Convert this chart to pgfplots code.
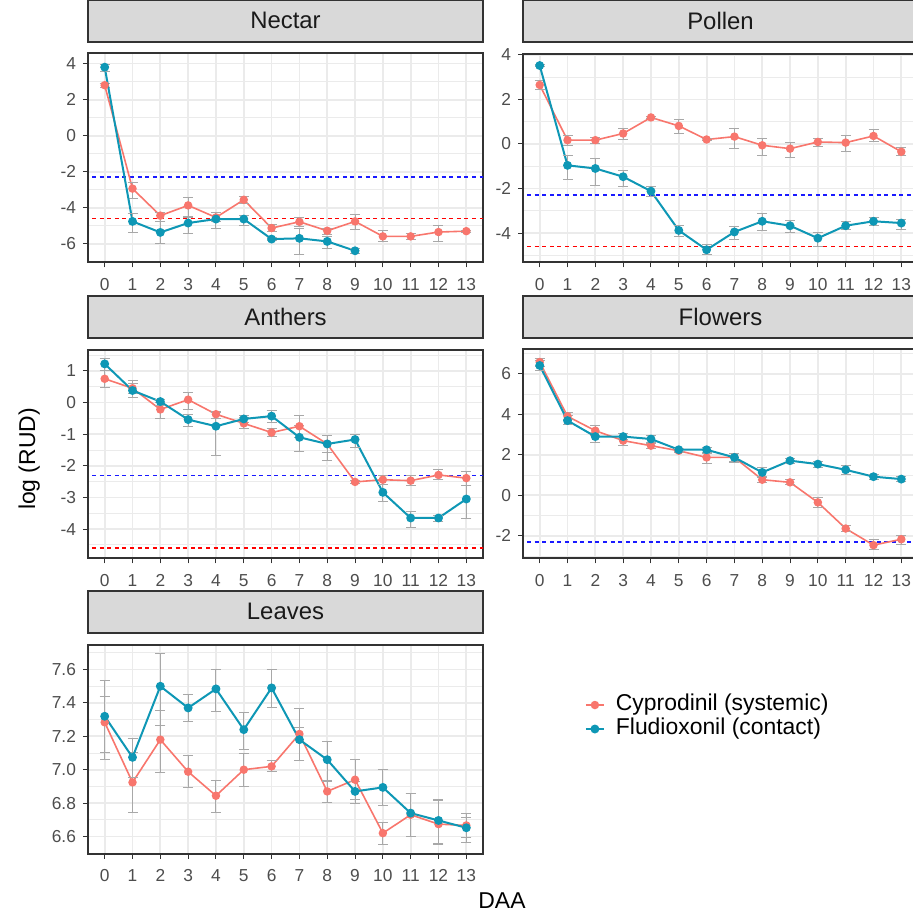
\documentclass[border=0pt]{standalone}
\usepackage{pgfplots}
\pgfplotsset{compat=1.18}
\usepackage{pgfplotstable}
\usepackage{fontspec}
\setmainfont{Liberation Sans}

\definecolor{cyp}{HTML}{F8766D}
\definecolor{flu}{HTML}{0E97B5}
\definecolor{grey10}{HTML}{1A1A1A}
\definecolor{grey20}{HTML}{333333}
\definecolor{grey30}{HTML}{4D4D4D}
\definecolor{stripc}{HTML}{D9D9D9}
\definecolor{gridc}{HTML}{EBEBEB}
\definecolor{errc}{HTML}{A8A8A8}
\definecolor{lodblue}{HTML}{1A1AFF}
\definecolor{lodred}{HTML}{FF0000}

% x = DAA, y = mean log(RUD), ep/em = error bar up/down
\pgfplotstableread{
x y ep em
0 2.80 0.12 0.12
1 -2.94 0.36 0.55
2 -4.44 0.18 0.32
3 -3.87 0.41 0.61
4 -4.54 0.28 0.22
5 -3.56 0.19 0.18
6 -5.13 0.18 0.18
7 -4.78 0.22 0.26
8 -5.28 0.15 0.22
9 -4.76 0.37 0.46
10 -5.59 0.31 0.31
11 -5.59 0.18 0.18
12 -5.35 0.37 0.52
13 -5.30 0.05 0.05
}\nectarC
\pgfplotstableread{
x y ep em
0 3.80 0.15 0.22
1 -4.76 0.46 0.61
2 -5.37 0.61 0.63
3 -4.85 0.33 0.59
4 -4.63 0.37 0.52
5 -4.63 0.20 0.37
6 -5.74 0.08 0.08
7 -5.70 0.57 0.91
8 -5.87 0.28 0.37
9 -6.39 0.13 0.13
}\nectarF
\pgfplotstableread{
x y ep em
0 2.65 0.19 0.19
1 0.17 0.20 0.22
2 0.17 0.12 0.14
3 0.47 0.23 0.26
4 1.19 0.06 0.06
5 0.81 0.30 0.35
6 0.20 0.05 0.05
7 0.33 0.36 0.54
8 -0.06 0.30 0.45
9 -0.21 0.27 0.41
10 0.09 0.15 0.21
11 0.06 0.30 0.38
12 0.36 0.27 0.27
13 -0.35 0.17 0.17
}\pollenC
\pgfplotstableread{
x y ep em
0 3.52 0.06 0.06
1 -0.96 0.42 0.63
2 -1.10 0.45 0.75
3 -1.47 0.30 0.42
4 -2.12 0.23 0.23
5 -3.88 0.21 0.27
6 -4.75 0.23 0.23
7 -3.95 0.26 0.32
8 -3.47 0.35 0.41
9 -3.67 0.24 0.30
10 -4.23 0.26 0.35
11 -3.67 0.20 0.18
12 -3.47 0.15 0.18
13 -3.55 0.18 0.27
}\pollenF
\pgfplotstableread{
x y ep em
0 0.75 0.26 0.27
1 0.45 0.15 0.15
2 -0.22 0.21 0.30
3 0.09 0.24 0.30
4 -0.37 0.08 0.12
5 -0.66 0.19 0.16
6 -0.95 0.12 0.12
7 -0.75 0.34 0.35
8 -1.31 0.26 0.28
9 -2.51 0.04 0.04
10 -2.44 0.13 0.14
11 -2.47 0.16 0.16
12 -2.29 0.17 0.15
13 -2.39 0.20 0.24
}\anthersC
\pgfplotstableread{
x y ep em
0 1.22 0.17 0.21
1 0.38 0.31 0.21
2 0.03 0.08 0.13
3 -0.54 0.15 0.21
4 -0.75 0.44 0.93
5 -0.52 0.10 0.12
6 -0.43 0.18 0.19
7 -1.10 0.37 0.45
8 -1.31 0.28 0.53
9 -1.17 0.15 0.24
10 -2.84 0.26 0.28
11 -3.65 0.20 0.30
12 -3.65 0.07 0.12
13 -3.05 0.42 0.63
}\anthersF
\pgfplotstableread{
x y ep em
0 6.58 0.16 0.20
1 3.90 0.20 0.17
2 3.19 0.25 0.25
3 2.70 0.21 0.25
4 2.45 0.16 0.16
5 2.20 0.08 0.08
6 1.87 0.25 0.28
7 1.87 0.21 0.25
8 0.77 0.16 0.16
9 0.64 0.16 0.13
10 -0.35 0.25 0.25
11 -1.64 0.13 0.16
12 -2.46 0.26 0.23
13 -2.17 0.21 0.25
}\flowersC
\pgfplotstableread{
x y ep em
0 6.41 0.25 0.25
1 3.69 0.25 0.21
2 2.90 0.21 0.28
3 2.90 0.13 0.15
4 2.78 0.16 0.20
5 2.25 0.08 0.08
6 2.25 0.12 0.21
7 1.87 0.21 0.21
8 1.13 0.25 0.25
9 1.71 0.12 0.13
10 1.54 0.13 0.16
11 1.26 0.23 0.25
12 0.92 0.10 0.12
13 0.80 0.12 0.12
}\flowersF
\pgfplotstableread{
x y ep em
0 7.284 0.156 0.220
1 6.924 0.180 0.180
2 7.180 0.174 0.196
3 6.988 0.095 0.095
4 6.844 0.090 0.100
5 7.000 0.100 0.100
6 7.020 0.035 0.030
7 7.214 0.040 0.035
8 6.870 0.065 0.065
9 6.940 0.120 0.120
10 6.620 0.065 0.070
11 6.730 0.130 0.130
12 6.674 0.150 0.120
13 6.666 0.070 0.100
}\leavesC
\pgfplotstableread{
x y ep em
0 7.320 0.215 0.215
1 7.074 0.110 0.120
2 7.500 0.194 0.236
3 7.370 0.080 0.080
4 7.484 0.116 0.136
5 7.240 0.100 0.120
6 7.490 0.110 0.120
7 7.180 0.184 0.126
8 7.060 0.110 0.130
9 6.870 0.060 0.070
10 6.894 0.106 0.110
11 6.740 0.120 0.140
12 6.696 0.120 0.140
13 6.652 0.060 0.060
}\leavesF

\pgfplotsset{
  panel/.style={
    scale only axis, width=197.5bp, height=104.5bp,
    xmin=-0.6, xmax=13.6,
    xtick={0,...,13},
    tick align=outside, tick pos=left,
    major tick length=2.5bp, minor tick length=0pt,
    major tick style={grey20, line width=0.5bp},
    axis line style={grey20, line width=1bp},
    xmajorgrids, ymajorgrids, yminorgrids,
    major grid style={gridc, line width=0.9bp},
    minor grid style={gridc, line width=0.45bp},
    tick label style={font=\fontsize{8.7}{10}\selectfont, text=grey30},
    xticklabel style={yshift=-2bp},
    /pgf/number format/assume math mode=true,
    title style={at={(0.5,1)}, anchor=south, fill=stripc, draw=grey20,
      line width=1bp, minimum width=197.5bp, minimum height=21bp,
      inner sep=0pt, outer sep=0pt, font=\fontsize{12}{14}\selectfont, text=grey10},
  },
  eb/.style={error bars/.cd, y dir=both, y explicit,
    error bar style={errc, line width=0.5bp},
    error mark options={rotate=90, errc, mark size=2.5bp, line width=0.5bp}},
  cser/.style={cyp, line width=0.8bp, mark=*, mark size=1.7bp,
    mark options={solid, fill=cyp, draw=cyp}, eb},
  fser/.style={flu, line width=1bp, mark=*, mark size=1.7bp,
    mark options={solid, fill=flu, draw=flu}, eb},
  lodb/.style={draw=lodblue, line width=0.85bp, dash pattern=on 2bp off 1.8bp, forget plot},
  lodr/.style={draw=lodred, line width=0.75bp, dash pattern=on 2bp off 1.8bp, forget plot},
}

\begin{document}
\begin{tikzpicture}
\useasboundingbox (0,0) rectangle (456.5bp,456bp);
\clip (0,0) rectangle (456.5bp,456bp);

% Nectar
\begin{axis}[panel, at={(44bp,324.75bp)}, anchor=south west, title={Nectar},
  ymin=-7.04, ymax=4.56, ytick={-6,-4,...,4}, minor ytick={-7,-5,...,3}]
\addplot[lodb] coordinates {(-1,-2.303) (14,-2.303)};
\addplot[lodr] coordinates {(-1,-4.605) (14,-4.605)};
\addplot[cser] table[x=x, y=y, y error plus=ep, y error minus=em] {\nectarC};
\addplot[fser] table[x=x, y=y, y error plus=ep, y error minus=em] {\nectarF};
\end{axis}

% Pollen
\begin{axis}[panel, at={(261.5bp,324.75bp)}, anchor=south west, title={Pollen},
  ymin=-5.32, ymax=4.06, ytick={-4,-2,...,4}, minor ytick={-5,-3,...,3}]
\addplot[lodb] coordinates {(-1,-2.303) (14,-2.303)};
\addplot[lodr] coordinates {(-1,-4.605) (14,-4.605)};
\addplot[cser] table[x=x, y=y, y error plus=ep, y error minus=em] {\pollenC};
\addplot[fser] table[x=x, y=y, y error plus=ep, y error minus=em] {\pollenF};
\end{axis}

% Anthers
\begin{axis}[panel, at={(44bp,176.75bp)}, anchor=south west, title={Anthers},
  ymin=-4.93, ymax=1.675, ytick={-4,...,1}, minor ytick={-4.5,-3.5,...,1.5}]
\addplot[lodb] coordinates {(-1,-2.303) (14,-2.303)};
\addplot[lodr] coordinates {(-1,-4.605) (14,-4.605)};
\addplot[cser] table[x=x, y=y, y error plus=ep, y error minus=em] {\anthersC};
\addplot[fser] table[x=x, y=y, y error plus=ep, y error minus=em] {\anthersF};
\end{axis}

% Flowers
\begin{axis}[panel, at={(261.5bp,176.75bp)}, anchor=south west, title={Flowers},
  ymin=-3.12, ymax=7.2, ytick={-2,0,...,6}, minor ytick={-3,-1,...,7}]
\addplot[lodb] coordinates {(-1,-2.303) (14,-2.303)};
\addplot[cser] table[x=x, y=y, y error plus=ep, y error minus=em] {\flowersC};
\addplot[fser] table[x=x, y=y, y error plus=ep, y error minus=em] {\flowersF};
\end{axis}

% Leaves
\begin{axis}[panel, at={(44bp,29.25bp)}, anchor=south west, title={Leaves},
  ymin=6.498, ymax=7.75, ytick={6.6,6.8,...,7.61}, minor ytick={6.5,6.7,...,7.71},
  yticklabel style={/pgf/number format/.cd, fixed, fixed zerofill, precision=1},
  legend style={at={(1.258,0.653)}, anchor=west, draw=none, fill=none,
    inner sep=0pt, outer sep=0pt, font=\fontsize{11.5}{12}\selectfont, text=black,
    row sep=0pt, column sep=5bp,
    nodes={inner sep=0.5bp, text height=8.3bp, text depth=2.7bp}},
  legend cell align=left,
  legend image code/.code={\draw[mark repeat=2, mark phase=2, #1]
    plot coordinates {(0bp,0bp) (4.5bp,0bp) (9bp,0bp)};}]
\addplot[cser] table[x=x, y=y, y error plus=ep, y error minus=em] {\leavesC};
\addlegendentry{Cyprodinil (systemic)}
\addplot[fser] table[x=x, y=y, y error plus=ep, y error minus=em] {\leavesF};
\addlegendentry{Fludioxonil (contact)}
\end{axis}

\node[rotate=90, anchor=base, font=\fontsize{11.5}{13}\selectfont] at (17.5bp,226.5bp) {log (RUD)};
\node[anchor=base, font=\fontsize{11.5}{13}\selectfont] at (251bp,1.8bp) {DAA};
\end{tikzpicture}
\end{document}
